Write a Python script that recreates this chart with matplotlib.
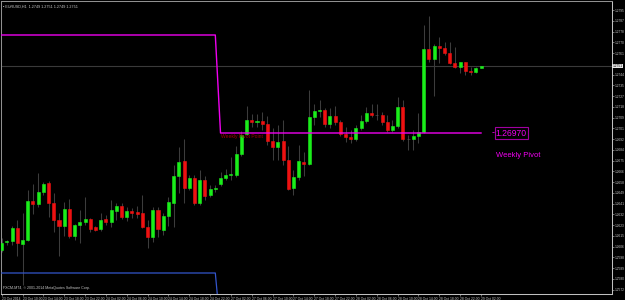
import numpy as np
import pandas as pd
import matplotlib
matplotlib.use("Agg")
import matplotlib.pyplot as plt
from matplotlib import transforms

# EURUSD H1, Thu 23 Oct 2014 06:00 -> Wed 29 Oct 2014 02:00
opens = [1.26034, 1.26098, 1.26106, 1.26210, 1.26082, 1.26114, 1.26426, 1.26402, 1.26498, 1.26570,
         1.26410, 1.26274, 1.26226, 1.26362, 1.26146, 1.26234, 1.26258, 1.26282, 1.26218, 1.26202,
         1.26282, 1.26258, 1.26346, 1.26386, 1.26298, 1.26346, 1.26338, 1.26334, 1.26218, 1.26138,
         1.26354, 1.26194, 1.26306, 1.26410, 1.26626, 1.26746, 1.26530, 1.26610, 1.26410, 1.26594,
         1.26474, 1.26522, 1.26562, 1.26610, 1.26634, 1.26634, 1.26802, 1.26962, 1.27074, 1.27058,
         1.27066, 1.27042, 1.26906, 1.26858, 1.26906, 1.26754, 1.26530, 1.26618, 1.26738, 1.26722,
         1.27098, 1.27146, 1.27154, 1.27042, 1.27106, 1.27058, 1.26962, 1.26938, 1.26922, 1.27010,
         1.27066, 1.27130, 1.27118, 1.27114, 1.27058, 1.26994, 1.27026, 1.27178, 1.26926, 1.26922,
         1.26946, 1.26978, 1.27642, 1.27562, 1.27666, 1.27650, 1.27610, 1.27530, 1.27498, 1.27538,
         1.27466, 1.27458, 1.27490]
highs = [1.26130, 1.26114, 1.26226, 1.26274, 1.26330, 1.26514, 1.26562, 1.26650, 1.26578, 1.26586,
         1.26490, 1.26330, 1.26418, 1.26442, 1.26242, 1.26354, 1.26458, 1.26290, 1.26226, 1.26330,
         1.26314, 1.26434, 1.26410, 1.26410, 1.26378, 1.26370, 1.26386, 1.26474, 1.26274, 1.26378,
         1.26378, 1.26330, 1.26458, 1.26714, 1.26858, 1.26922, 1.26634, 1.26634, 1.26674, 1.26626,
         1.26554, 1.26554, 1.26658, 1.26682, 1.26778, 1.26866, 1.26986, 1.27186, 1.27122, 1.27122,
         1.27138, 1.27106, 1.27010, 1.27034, 1.27074, 1.26866, 1.26674, 1.26874, 1.26818, 1.27314,
         1.27202, 1.27234, 1.27170, 1.27170, 1.27186, 1.27074, 1.27018, 1.26994, 1.27034, 1.27114,
         1.27178, 1.27202, 1.27202, 1.27138, 1.27114, 1.27074, 1.27258, 1.27234, 1.26954, 1.26994,
         1.27130, 1.27834, 1.27906, 1.27682, 1.27738, 1.27698, 1.27698, 1.27658, 1.27538, 1.27538,
         1.27498, 1.27498, 1.27506]
lows = [1.26018, 1.26074, 1.26074, 1.25986, 1.25754, 1.26106, 1.26322, 1.26378, 1.26474, 1.26298,
        1.26178, 1.25986, 1.26146, 1.26130, 1.26114, 1.26090, 1.26234, 1.26178, 1.26186, 1.26186,
        1.26234, 1.26218, 1.26274, 1.26282, 1.26266, 1.26290, 1.26290, 1.26210, 1.26050, 1.26098,
        1.26138, 1.26154, 1.26226, 1.26218, 1.26490, 1.26410, 1.26514, 1.26394, 1.26394, 1.26434,
        1.26458, 1.26498, 1.26546, 1.26594, 1.26594, 1.26618, 1.26786, 1.26954, 1.27018, 1.27018,
        1.26994, 1.26874, 1.26754, 1.26754, 1.26714, 1.26514, 1.26474, 1.26594, 1.26626, 1.26714,
        1.27034, 1.27098, 1.27018, 1.27010, 1.27034, 1.26946, 1.26898, 1.26890, 1.26906, 1.26994,
        1.27050, 1.27098, 1.27074, 1.27034, 1.26978, 1.26978, 1.27010, 1.26906, 1.26834, 1.26834,
        1.26890, 1.26970, 1.27538, 1.27266, 1.27530, 1.27594, 1.27522, 1.27490, 1.27450, 1.27434,
        1.27434, 1.27450, 1.27490]
closes = [1.26090, 1.26106, 1.26210, 1.26090, 1.26114, 1.26426, 1.26402, 1.26498, 1.26562, 1.26410,
          1.26274, 1.26226, 1.26362, 1.26146, 1.26234, 1.26258, 1.26282, 1.26202, 1.26194, 1.26274,
          1.26258, 1.26354, 1.26386, 1.26298, 1.26346, 1.26330, 1.26326, 1.26218, 1.26138, 1.26354,
          1.26202, 1.26306, 1.26418, 1.26626, 1.26738, 1.26530, 1.26610, 1.26410, 1.26594, 1.26466,
          1.26522, 1.26530, 1.26610, 1.26634, 1.26642, 1.26802, 1.26954, 1.27074, 1.27058, 1.27066,
          1.27042, 1.26906, 1.26858, 1.26898, 1.26754, 1.26522, 1.26618, 1.26746, 1.26722, 1.27098,
          1.27146, 1.27154, 1.27042, 1.27106, 1.27058, 1.26962, 1.26938, 1.26922, 1.27010, 1.27066,
          1.27130, 1.27114, 1.27118, 1.27058, 1.26994, 1.27026, 1.27178, 1.26922, 1.26926, 1.26946,
          1.26978, 1.27642, 1.27562, 1.27666, 1.27650, 1.27610, 1.27530, 1.27498, 1.27538, 1.27466,
          1.27458, 1.27490, 1.27506]

# bar times (weekend gap between the two sessions)
times = list(pd.date_range("2014-10-23 06:00", periods=42, freq="h")) + \
        list(pd.date_range("2014-10-27 00:00", periods=51, freq="h"))

# weekly levels: previous week / current week
pivot_levels = [1.27754, 1.26970]
s_levels = [1.25850, 1.25400]
week_start_bar = 42

GREEN = "#1aee1a"
RED = "#ee1111"
DOJI = "#5a5a5a"
WICK = "#3c3c3c"
MAGENTA = "#f000f0"
TXT = "#c8c8c8"
SMALL_FONT = ["Liberation Sans", "DejaVu Sans"]

o, h, l, c = map(np.array, (opens, highs, lows, closes))
x = np.arange(len(o))

fig = plt.figure(figsize=(6.25, 3.0), dpi=100, facecolor="black")
ax = fig.add_axes([1 / 625, 6 / 300, 611 / 625, 293 / 300])
ax.set_facecolor("black")

# price scale: 0.00008 per pixel
ax.set_xlim(-0.134, 117.14)
ax.set_ylim(1.25682, 1.28026)

# current price line
ax.axhline(c[-1], color="#3a3a3a", lw=0.8, zorder=1)

# candles
body_col = np.where(c > o, GREEN, np.where(c < o, RED, DOJI))
ax.vlines(x, l, h, color=WICK, lw=0.75, zorder=2)
ax.bar(x, np.abs(c - o), bottom=np.minimum(o, c), width=0.58,
       color=list(body_col), edgecolor=list(body_col), linewidth=0.4, zorder=3)

# weekly pivot / support lines
pivot = np.where(x >= week_start_bar, pivot_levels[1], pivot_levels[0])
support = np.where(x >= week_start_bar, s_levels[1], s_levels[0])
ax.plot(x, pivot, color=MAGENTA, lw=1.0, zorder=4)
ax.plot(x, support, color="#3355cc", lw=0.9, zorder=4)

ax.text(week_start_bar + 0.1, pivot_levels[1] - 0.00004, "Weekly Pivot Point",
        color="#a00000", fontsize=3.6, family=SMALL_FONT, ha="left", va="top", zorder=5)

ax.annotate("-", xy=(x[-1], pivot_levels[1]), xytext=(7.5, 0), textcoords="offset points",
            color=MAGENTA, fontsize=6, ha="left", va="center", annotation_clip=False)
ax.annotate(f"{pivot_levels[1]:.5f}", xy=(x[-1], pivot_levels[1]), xytext=(10.5, 0),
            textcoords="offset points", color=MAGENTA, fontsize=6.2, family=SMALL_FONT,
            ha="left", va="center", annotation_clip=False,
            bbox=dict(boxstyle="square,pad=0.12", fc="none", ec="#a000a0", lw=0.8))
ax.annotate("Weekly Pivot", xy=(x[-1], pivot_levels[1]), xytext=(10.5, -16.5),
            textcoords="offset points", color=MAGENTA, fontsize=5.5, family=SMALL_FONT,
            ha="left", va="center", annotation_clip=False)

# header and copyright
ax.text(0.004, 0.988, "\u25aa EURUSD,H1  " + " ".join(f"{v:.4f}" for v in (o[-1], h[-1], l[-1], c[-1])),
        transform=ax.transAxes, color=TXT, fontsize=2.7, family=SMALL_FONT, ha="left", va="top")
ax.text(0.003, 0.013, "FXCM-MT4, \u00a9 2001-2014 MetaQuotes Software Corp.",
        transform=ax.transAxes, color=TXT, fontsize=2.6, family=SMALL_FONT, ha="left", va="bottom")

# right price axis
ax.yaxis.tick_right()
yt = np.arange(1.27954, 1.2565, -0.00086)
yt = yt[np.abs(yt - c[-1]) > 0.0004]
ax.set_yticks(yt)
ax.set_yticklabels([f"{v:.4f}" for v in yt], fontsize=2.3, color=TXT, family=SMALL_FONT)
ax.tick_params(axis="y", length=1.2, width=0.5, color="#a0a0a0", pad=0.6)
ax.text(1.0015, c[-1], f"{c[-1]:.4f}", transform=transforms.blended_transform_factory(ax.transAxes, ax.transData),
        color="black", fontsize=2.3, family=SMALL_FONT, ha="left", va="center", clip_on=False,
        bbox=dict(boxstyle="square,pad=0.15", fc="#e8e8e8", ec="none"), zorder=6)

# time axis
xt = x[::4]
xl = [times[i].strftime("%d %b %Y") if i == 0 else times[i].strftime("%d %b %H:%M") for i in xt]
ax.set_xticks(xt)
ax.set_xticklabels(xl, fontsize=2.4, color=TXT, family=SMALL_FONT, ha="left")
ax.tick_params(axis="x", length=1.5, width=0.5, color="#a0a0a0", pad=0.4)

for name, sp in ax.spines.items():
    sp.set_color("#909090" if name in ("left", "top") else "#c0c0c0")
    sp.set_linewidth(0.75)

fig.savefig("out.png", dpi=100, facecolor="black")
